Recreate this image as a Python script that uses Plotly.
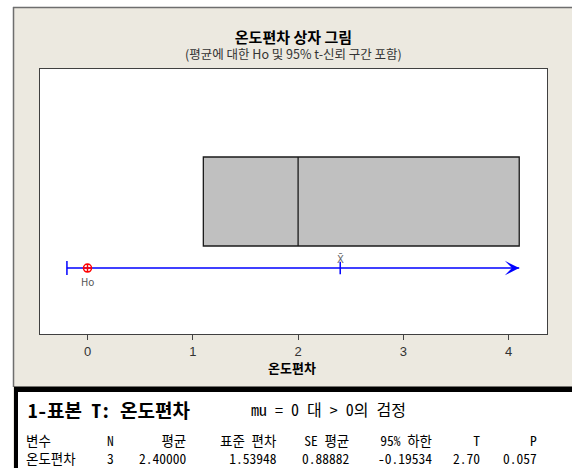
import plotly.graph_objects as go

# ---------------- data ----------------
temp_dev = [1.1, 2.0, 4.1]          # 온도편차 observations (box)
h0_value = 0.0                      # Ho
ci_lower = -0.19534                 # 95% lower bound
sample_mean = 2.4                   # X-bar
x_ticks = [0, 1, 2, 3, 4]

main_title = "온도편차 상자 그림"
sub_title = "(평균에 대한 Ho 및 95% t-신뢰 구간 포함)"
x_title = "온도편차"

session_title = "1-표본 T: 온도편차"
session_test = "mu = 0 대 > 0의 검정"
table_headers = ["변수", "N", "평균", "표준 편차", "SE 평균", "95% 하한", "T", "P"]
table_values = ["온도편차", "3", "2.40000", "1.53948", "0.88882", "-0.19534", "2.70", "0.057"]

# ---------------- layout geometry (pixels) ----------------
W, H = 572, 468
L, R, T, B = 40, 25, 69, 134
PW, PH = W - L - R, H - T - B


def px(x):
    return (x - L) / PW


def py(y):
    return (H - B - y) / PH


BEIGE = "#ECE9E0"
BLUE = "#0000FF"
SANS = "Noto Sans CJK KR, Liberation Sans, Arial, sans-serif"
MONO = "Noto Sans Mono CJK KR, Noto Sans CJK KR, DejaVu Sans Mono, monospace"

box_pos = 0.5
ci_pos = 0.249

fig = go.Figure()

fig.add_trace(go.Box(
    x=temp_dev, y0=box_pos, orientation="h", width=0.336,
    quartilemethod="exclusive", boxpoints=False,
    fillcolor="#C0C0C0", line=dict(color="#1A1A1A", width=1.3),
    whiskerwidth=0, hoverinfo="skip", showlegend=False,
))

upper_end = max(temp_dev)
fig.add_trace(go.Scatter(
    x=[ci_lower, upper_end], y=[ci_pos, ci_pos], mode="lines",
    line=dict(color=BLUE, width=1.5), showlegend=False, hoverinfo="skip",
))
fig.add_trace(go.Scatter(
    x=[ci_lower], y=[ci_pos], mode="markers",
    marker=dict(symbol="line-ns", size=10, line=dict(color=BLUE, width=1.5)),
    showlegend=False, hoverinfo="skip",
))
fig.add_trace(go.Scatter(
    x=[sample_mean], y=[ci_pos], mode="markers",
    marker=dict(symbol="line-ns", size=9, line=dict(color=BLUE, width=1.5)),
    showlegend=False, hoverinfo="skip",
))
fig.add_trace(go.Scatter(
    x=[h0_value], y=[ci_pos], mode="markers",
    marker=dict(symbol="circle-cross-open", size=8, color="#FF0000",
                line=dict(color="#FF0000", width=1.5)),
    showlegend=False, hoverinfo="skip",
))

annotations = [
    # arrow head at upper end of CI line
    dict(x=upper_end, y=ci_pos, ax=upper_end - 0.05, ay=ci_pos, xref="x", yref="y",
         axref="x", ayref="y", text="", showarrow=True, arrowhead=3,
         arrowsize=1.6, arrowwidth=1.5, arrowcolor=BLUE),
    dict(x=h0_value, y=ci_pos, xref="x", yref="y", text="Ho", showarrow=False,
         yshift=-13, font=dict(family=SANS, size=10, color="#555555")),
    dict(x=sample_mean, y=ci_pos, xref="x", yref="y", text="X\u0304", showarrow=False,
         yshift=9, font=dict(family="DejaVu Sans, sans-serif", size=10, color="#666666")),
    # title + subtitle as one two-line text
    dict(x=px(293), y=py(44), xref="paper", yref="paper",
         text=("<span style='font-size:15px;color:#000000'><b>" + main_title + "</b></span><br>"
               + sub_title),
         showarrow=False, xanchor="center", yanchor="middle", align="center",
         font=dict(family=SANS, size=12.5, color="#333333")),
    dict(x=px(292), y=py(367), xref="paper", yref="paper", text="<b>" + x_title + "</b>",
         showarrow=False, xanchor="center", yanchor="middle",
         font=dict(family=SANS, size=13, color="#000000")),
    # session window text
    dict(x=px(26), y=py(409), xref="paper", yref="paper", text="<b>" + session_title + "</b>",
         showarrow=False, xanchor="left", yanchor="middle",
         font=dict(family=MONO, size=19, color="#000000")),
    dict(x=px(249), y=py(409), xref="paper", yref="paper", text=session_test,
         showarrow=False, xanchor="left", yanchor="middle",
         font=dict(family=MONO, size=16, color="#000000")),
]

# table columns: right edge in character columns (first column left aligned);
# each column is one two-line text (header over value)
col_right = [None, 11, 20, 31, 40, 50, 56, 63]
x0_px, cw = 25, 8.15
for head, val, cr in zip(table_headers, table_values, col_right):
    if cr is None:
        xx, anc = x0_px, "left"
    else:
        xx, anc = x0_px + cr * cw, "right"
    annotations.append(dict(
        x=px(xx), y=py(448.5), xref="paper", yref="paper", text=head + "<br>" + val,
        showarrow=False, xanchor=anc, yanchor="middle", align=anc, borderpad=0,
        font=dict(family=MONO, size=13.5, color="#000000")))

shapes = [
    # white strips outside the graph frame
    dict(type="rect", xref="paper", yref="paper", x0=px(-5), x1=px(W + 5), y0=py(7), y1=py(-5),
         fillcolor="#FFFFFF", line=dict(width=0), layer="below"),
    dict(type="rect", xref="paper", yref="paper", x0=px(-5), x1=px(13), y0=py(H + 5), y1=py(-5),
         fillcolor="#FFFFFF", line=dict(width=0), layer="below"),
    # frame border
    dict(type="line", xref="paper", yref="paper", x0=px(13), x1=px(W + 5), y0=py(7.5), y1=py(7.5),
         line=dict(color="#6E6E6E", width=1.5), layer="below"),
    dict(type="line", xref="paper", yref="paper", x0=px(13.5), x1=px(13.5), y0=py(7), y1=py(387),
         line=dict(color="#6E6E6E", width=1.5), layer="below"),
    # session window (black border + white)
    dict(type="rect", xref="paper", yref="paper", x0=px(14), x1=px(W + 5), y0=py(H + 5), y1=py(386.5),
         fillcolor="#000000", line=dict(width=0), layer="below"),
    dict(type="rect", xref="paper", yref="paper", x0=px(18), x1=px(W + 5), y0=py(H + 5), y1=py(392),
         fillcolor="#FFFFFF", line=dict(width=0), layer="below"),
]

zero_px, unit_px = 87.5, 105.3
x_lo = (L - zero_px) / unit_px
x_hi = (W - R - zero_px) / unit_px

fig.update_layout(
    width=W, height=H, autosize=False,
    margin=dict(l=L, r=R, t=T, b=B, pad=0),
    paper_bgcolor=BEIGE, plot_bgcolor="#FFFFFF",
    showlegend=False,
    xaxis=dict(range=[x_lo, x_hi], tickvals=x_ticks, ticks="outside", ticklen=5,
               tickcolor="#444444", tickwidth=1, showgrid=False, zeroline=False,
               showline=True, mirror=True, linecolor="#404040", linewidth=1,
               tickfont=dict(family="Liberation Sans, Arial, sans-serif", size=13, color="#333333")),
    yaxis=dict(range=[0, 1], showticklabels=False, ticks="", showgrid=False, zeroline=False,
               showline=True, mirror=True, linecolor="#404040", linewidth=1, fixedrange=True),
    annotations=annotations, shapes=shapes,
)

fig.write_html("out.html")
